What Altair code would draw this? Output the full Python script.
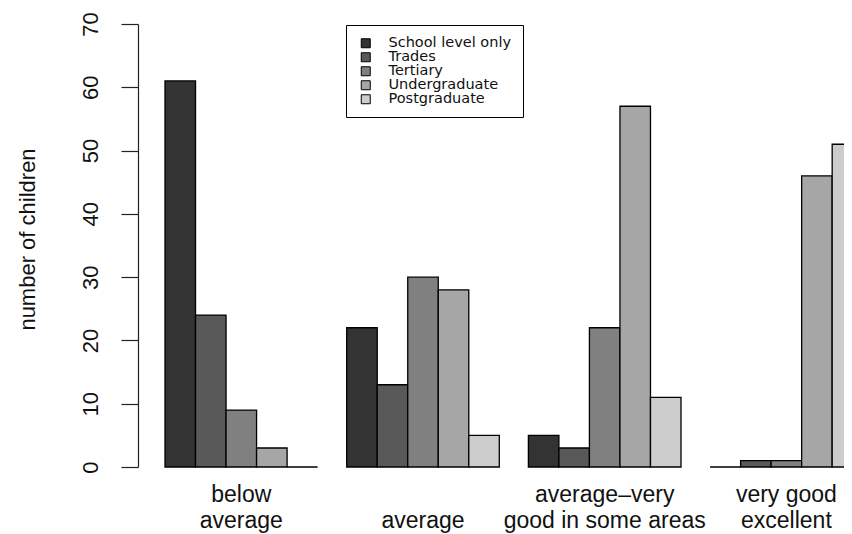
import altair as alt
import pandas as pd

groups = ["below average", "average", "average–very good in some areas", "very good excellent"]
group_lines = [["below", "average"], ["", "average"], ["average–very", "good in some areas"], ["very good", "excellent"]]
education = ["School level only", "Trades", "Tertiary", "Undergraduate", "Postgraduate"]
school_level = [61, 22, 5, 0]
trades = [24, 13, 3, 1]
tertiary = [9, 30, 22, 1]
undergraduate = [3, 28, 57, 46]
postgraduate = [0, 5, 11, 51]
colors = ["#333333", "#595959", "#808080", "#a6a6a6", "#cccccc"]
y_ticks = [0, 10, 20, 30, 40, 50, 60, 70]

series = [school_level, trades, tertiary, undergraduate, postgraduate]
rows = []
for edu, vals in zip(education, series):
    for g, v in zip(groups, vals):
        rows.append({"group": g, "education": edu, "count": v})
df = pd.DataFrame(rows)

# label expression: split group names into the lines shown under each group
expr = "''"
for g, lines in reversed(list(zip(groups, group_lines))):
    arr = "[" + ",".join("'" + s + "'" for s in lines) + "]"
    expr = f"datum.label == '{g}' ? {arr} : ({expr})"

FONT = "Liberation Sans"
TXT = "#111111"

chart = alt.Chart(df).mark_bar(stroke="#000000", strokeWidth=1.3).encode(
    x=alt.X("group:N", sort=groups,
            scale=alt.Scale(domain=groups, range=[27, 724.7], paddingInner=0.16, paddingOuter=0),
            axis=alt.Axis(title=None, domain=False, ticks=False, tickSize=0, labelAngle=0,
                          labelFontSize=23, labelLineHeight=26, labelBaseline="alphabetic",
                          labelAlign="center", labelPadding=34, labelExpr=expr, labelLimit=400,
                          labelOverlap=False, labelColor=TXT, labelFont=FONT)),
    xOffset=alt.XOffset("education:N", sort=education,
                        scale=alt.Scale(domain=education, paddingInner=0, paddingOuter=0)),
    y=alt.Y("count:Q", scale=alt.Scale(domain=[0, 70], nice=False, zero=True),
            axis=alt.Axis(values=y_ticks, tickSize=17, labelPadding=24, labelAngle=270,
                          labelAlign="center", labelBaseline="alphabetic", labelFontSize=22,
                          labelColor=TXT, labelFont=FONT, labelOverlap=False, grid=False,
                          domainColor="#222222", tickColor="#222222", domainWidth=1.2, tickWidth=1.2,
                          title="number of children", titleAngle=270, titleX=-104, titleY=215,
                          titleAlign="center", titleBaseline="alphabetic", titleFontSize=22,
                          titleFontWeight="normal", titleColor=TXT, titleFont=FONT)),
    color=alt.Color("education:N", sort=education,
                    scale=alt.Scale(domain=education, range=colors),
                    legend=alt.Legend(title=None, orient="none", legendX=208, legendY=1,
                                      strokeColor="#000000", fillColor="#ffffff", padding=11,
                                      symbolType="square", symbolSize=81, symbolStrokeColor="#000000",
                                      symbolStrokeWidth=1, symbolOffset=1.5, labelOffset=15.5,
                                      labelFontSize=14.5, labelFont="DejaVu Sans", labelColor=TXT,
                                      rowPadding=-3.2)),
).properties(
    width=706,
    height=443,
    autosize=alt.AutoSizeParams(type="none"),
    padding={"left": 130, "top": 16, "right": 0, "bottom": 66},
).configure(font=FONT).configure_view(strokeWidth=0)

chart.save("out.html", embed_options={"renderer": "svg", "actions": False})
